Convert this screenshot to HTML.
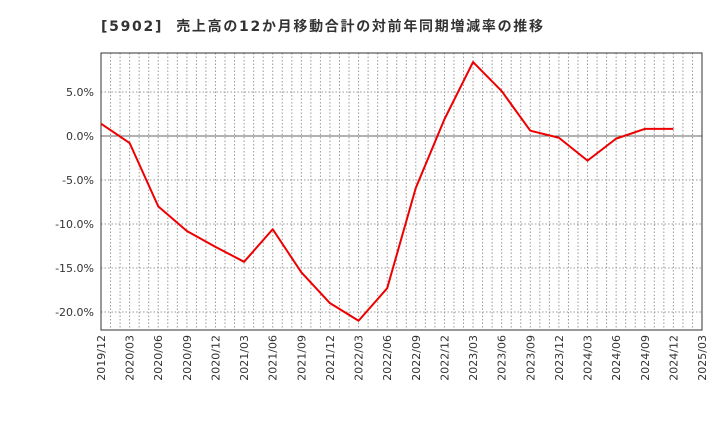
<!DOCTYPE html>
<html><head><meta charset="utf-8"><style>
body{margin:0;background:#fff;width:720px;height:440px;overflow:hidden}
text{font-family:"DejaVu Sans","Liberation Sans","Noto Sans CJK JP",sans-serif}
</style></head><body>
<svg id="chart" width="720" height="440">
<text x="101" y="31" font-size="14" font-weight="bold" fill="#333" textLength="442" lengthAdjust="spacing" xml:space="preserve">[5902]  売上高の12か月移動合計の対前年同期増減率の推移</text>
<g id="grid"></g><g id="axes"></g><g id="series"></g>
</svg>
<script>
const categories=["2019/12","2020/03","2020/06","2020/09","2020/12","2021/03","2021/06","2021/09","2021/12","2022/03","2022/06","2022/09","2022/12","2023/03","2023/06","2023/09","2023/12","2024/03","2024/06","2024/09","2024/12","2025/03"];
const values=[1.4,-0.8,-8.0,-10.8,-12.6,-14.3,-10.6,-15.5,-19.0,-21.0,-17.3,-5.9,1.9,8.4,5.1,0.6,-0.2,-2.8,-0.3,0.8,0.8];
const yTicks=[5,0,-5,-10,-15,-20];
const yTickLabels=["5.0%","0.0%","-5.0%","-10.0%","-15.0%","-20.0%"];
const L=101,R=702,T=53,B=330,yMax=9.43,yMin=-22.05;
const ns="http://www.w3.org/2000/svg";
const xs=i=>L+(R-L)*i/(categories.length-1);
const ys=v=>T+(yMax-v)/(yMax-yMin)*(B-T);
function mk(p,tag,a){const e=document.createElementNS(ns,tag);for(const k in a)e.setAttribute(k,a[k]);p.appendChild(e);return e;}
const grid=document.getElementById('grid'),axes=document.getElementById('axes'),series=document.getElementById('series');
const nMonths=(categories.length-1)*3;
for(let m=1;m<nMonths;m++){const x=L+(R-L)*m/nMonths;
const l=mk(grid,'line',{x1:x,x2:x,y1:T,y2:B,stroke:'#999','stroke-dasharray':'1.5,2','stroke-width':1});

}
yTicks.forEach((v,i)=>{const y=ys(v);
const l=mk(grid,'line',{x1:L,x2:R,y1:y,y2:y,stroke:v===0?'#666':'#999','stroke-dasharray':v===0?'':'1.5,2','stroke-width':1});


const t=mk(axes,'text',{x:L-7,y:y+4,'text-anchor':'end','font-size':11,fill:'#333'});t.textContent=yTickLabels[i];

});
const fr=mk(axes,'rect',{x:L,y:T,width:R-L,height:B-T,fill:'none',stroke:'#333','stroke-width':1});


categories.forEach((c,i)=>{const x=xs(i);
const t=mk(axes,'text',{x:0,y:0,'text-anchor':'end','font-size':11,fill:'#333',transform:`translate(${x+4},${B+5}) rotate(-90)`});t.textContent=c;

});
const pl=mk(series,'polyline',{points:values.map((v,i)=>xs(i)+','+ys(v)).join(' '),fill:'none',stroke:'#e00','stroke-width':2,'stroke-linejoin':'round'});


</script>
</body></html>
